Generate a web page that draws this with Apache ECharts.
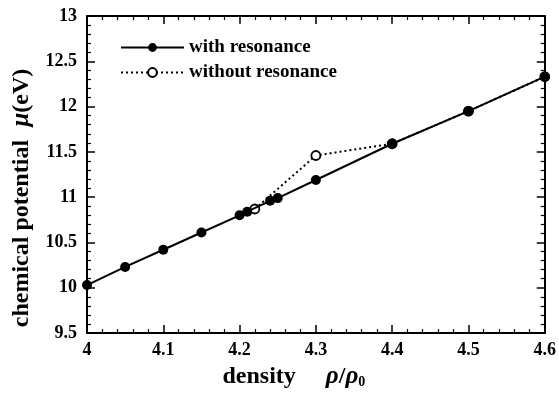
<!DOCTYPE html>
<html><head><meta charset="utf-8">
<script src="https://cdn.jsdelivr.net/npm/echarts@6/dist/echarts.min.js"></script>
<style>html,body{margin:0;padding:0;background:#fff}#c{width:559px;height:394px}</style>
</head><body><div id="c"></div>
<script>
const withX = [4.0, 4.05, 4.1, 4.15, 4.2, 4.21, 4.24, 4.25, 4.3, 4.4, 4.5, 4.6];
const withY = [10.03, 10.23, 10.42, 10.61, 10.80, 10.84, 10.96, 10.99, 11.19, 11.59, 11.95, 12.33];
const withoutX = [4.22, 4.3, 4.4, 4.5, 4.6];
const withoutY = [10.87, 11.46, 11.59, 11.95, 12.33];
const xTicks = [4, 4.1, 4.2, 4.3, 4.4, 4.5, 4.6];
const yTicks = [9.5, 10, 10.5, 11, 11.5, 12, 12.5, 13];

const FONT = 'Liberation Serif';
const chart = echarts.init(document.getElementById('c'));
const pair = (xs, ys) => xs.map((x, i) => [x, ys[i]]);
const tickFmt = v => String(Math.round(v * 10) / 10);
const axCommon = {
  axisLine: {show: true, onZero: false, lineStyle: {color: '#000', width: 2}},
  axisTick: {show: true, inside: true, length: 8, lineStyle: {color: '#000', width: 1.5}},
  minorTick: {show: true, splitNumber: 5, length: 4, lineStyle: {color: '#000', width: 1.2}},
  splitLine: {show: false},
  minorSplitLine: {show: false}
};
chart.setOption({
  animation: false,
  grid: {left: 87, right: 13, top: 16, bottom: 54},
  legend: {
    orient: 'vertical', left: 115, top: 33, itemGap: 6,
    itemWidth: 63, itemHeight: 11,
    textStyle: {fontFamily: FONT, fontSize: 19, fontWeight: 'bold', color: '#000'},
    data: ['with resonance', 'without resonance']
  },
  graphic: [{
    type: 'text', x: 22, y: 198, rotation: Math.PI / 2,
    style: {
      text: '{n|chemical potential}    {i|μ}{n|(eV)}',
      align: 'center', verticalAlign: 'middle',
      rich: {
        n: {fontFamily: FONT, fontSize: 24, fontWeight: 'bold', fill: '#000'},
        i: {fontFamily: FONT, fontSize: 25, fontStyle: 'italic', fontWeight: 'bold', fill: '#000'}
      }
    }
  }],
  xAxis: [{
    type: 'value', min: xTicks[0], max: xTicks[xTicks.length - 1], interval: 0.1,
    position: 'bottom',
    ...axCommon,
    axisLabel: {fontFamily: FONT, fontSize: 18, fontWeight: 'bold', color: '#000', margin: 8, formatter: tickFmt},
    name: '{n|density}         {i|ρ}{n|/}{i|ρ}{s|0}', nameLocation: 'middle', nameGap: 30,
    nameTextStyle: {
      padding: [0, 44, 0, 0],
      rich: {
        n: {fontFamily: FONT, fontSize: 24, fontWeight: 'bold', color: '#000'},
        i: {fontFamily: FONT, fontSize: 25, fontStyle: 'italic', fontWeight: 'bold', color: '#000'},
        s: {fontFamily: FONT, fontSize: 14, fontWeight: 'bold', color: '#000', verticalAlign: 'bottom', padding: [8, 0, 0, 0]}
      }
    }
  }, {
    type: 'value', min: xTicks[0], max: xTicks[xTicks.length - 1], interval: 0.1,
    position: 'top', ...axCommon, axisLabel: {show: false}
  }],
  yAxis: [{
    type: 'value', min: yTicks[0], max: yTicks[yTicks.length - 1], interval: 0.5,
    position: 'left',
    ...axCommon,
    axisLabel: {fontFamily: FONT, fontSize: 18, fontWeight: 'bold', color: '#000', margin: 10, formatter: tickFmt}
  }, {
    type: 'value', min: yTicks[0], max: yTicks[yTicks.length - 1], interval: 0.5,
    position: 'right', ...axCommon, axisLabel: {show: false}
  }],
  series: [{
    name: 'without resonance', type: 'line', z: 2,
    data: pair(withoutX, withoutY),
    symbol: 'circle', symbolSize: 9,
    itemStyle: {color: '#fff', borderColor: '#000', borderWidth: 1.8},
    lineStyle: {color: '#000', width: 2, type: [2, 3]}
  }, {
    name: 'with resonance', type: 'line', z: 3,
    data: pair(withX, withY),
    symbol: 'circle', symbolSize: 10,
    itemStyle: {color: '#000', borderColor: '#000', borderWidth: 0},
    lineStyle: {color: '#000', width: 2}
  }]
});
</script></body></html>
